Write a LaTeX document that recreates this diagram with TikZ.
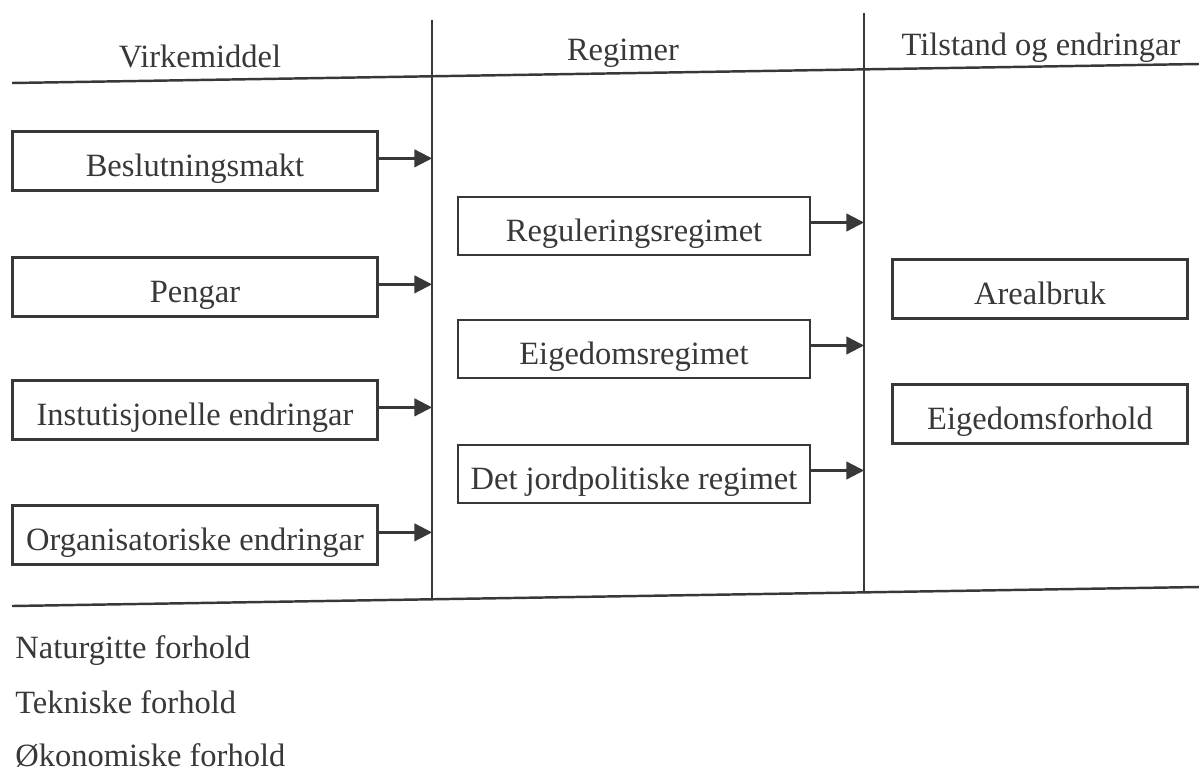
\documentclass[tikz,border=0pt]{standalone}
\usepackage{fontspec}
\setmainfont{Liberation Serif}
\usetikzlibrary{arrows.meta}
\definecolor{ink}{gray}{0.22}

\begin{document}
\begin{tikzpicture}[x=0.02cm,y=-0.02cm,
    every node/.style={text=ink, font=\fontsize{18.5}{22}\selectfont},
    boks/.style={draw=ink, line width=1.2pt, minimum height=1.18cm, inner sep=0pt,
        text height=18pt, text depth=0pt},
    venstre/.style={boks, minimum width=7.3cm},
    midt/.style={boks, minimum width=7.04cm, minimum height=1.16cm},
    hogre/.style={boks, minimum width=5.9cm},
    pil/.style={draw=ink, line width=1.3pt, -{Triangle[length=10pt,width=10pt]}},
    linje/.style={draw=ink, line width=1.4pt}]
    \useasboundingbox (0,0) rectangle (1199,771);

    % kolonnar og skiljelinjer
    \coordinate (v1top) at (432,20);
    \coordinate (v1bot) at (432,598);
    \coordinate (v2top) at (864,13);
    \coordinate (v2bot) at (864,593);
    \draw[linje] (12,83) -- (1199,64);
    \draw[linje] (12,606) -- (1199,587);
    \draw[linje] (v1top) -- (v1bot);
    \draw[linje] (v2top) -- (v2bot);

    % overskrifter
    \node[anchor=base] (h1) at (200,67) {Virkemiddel};
    \node[anchor=base] (h2) at (623,60) {Regimer};
    \node[anchor=base] (h3) at (1041,55) {Tilstand og endringar};

    % virkemiddel
    \node[venstre] (b1) at (195,161) {Beslutningsmakt};
    \node[venstre] (b2) at (195,287) {Pengar};
    \node[venstre] (b3) at (195,410) {Instutisjonelle endringar};
    \node[venstre] (b4) at (195,535) {Organisatoriske endringar};

    % regimer
    \node[midt] (r1) at (634,226) {Reguleringsregimet};
    \node[midt] (r2) at (634,349) {Eigedomsregimet};
    \node[midt] (r3) at (634,474) {Det jordpolitiske regimet};

    % tilstand
    \node[hogre] (t1) at (1040,289) {Arealbruk};
    \node[hogre] (t2) at (1040,414) {Eigedomsforhold};

    % piler
    \foreach \b in {b1,b2,b3,b4}
        \draw[pil] ([yshift=1.5pt]\b.east) -- ([yshift=1.5pt]\b.east -| v1top);
    \foreach \r in {r1,r2,r3}
        \draw[pil] ([yshift=2pt]\r.east) -- ([yshift=2pt]\r.east -| v2top);

    % ytre forhold
    \node[anchor=base west, inner sep=0pt] (f1) at (15,658) {Naturgitte forhold};
    \node[anchor=base west, inner sep=0pt] (f2) at (15,713) {Tekniske forhold};
    \node[anchor=base west, inner sep=0pt] (f3) at (15,766) {Økonomiske forhold};

\end{tikzpicture}
\end{document}
